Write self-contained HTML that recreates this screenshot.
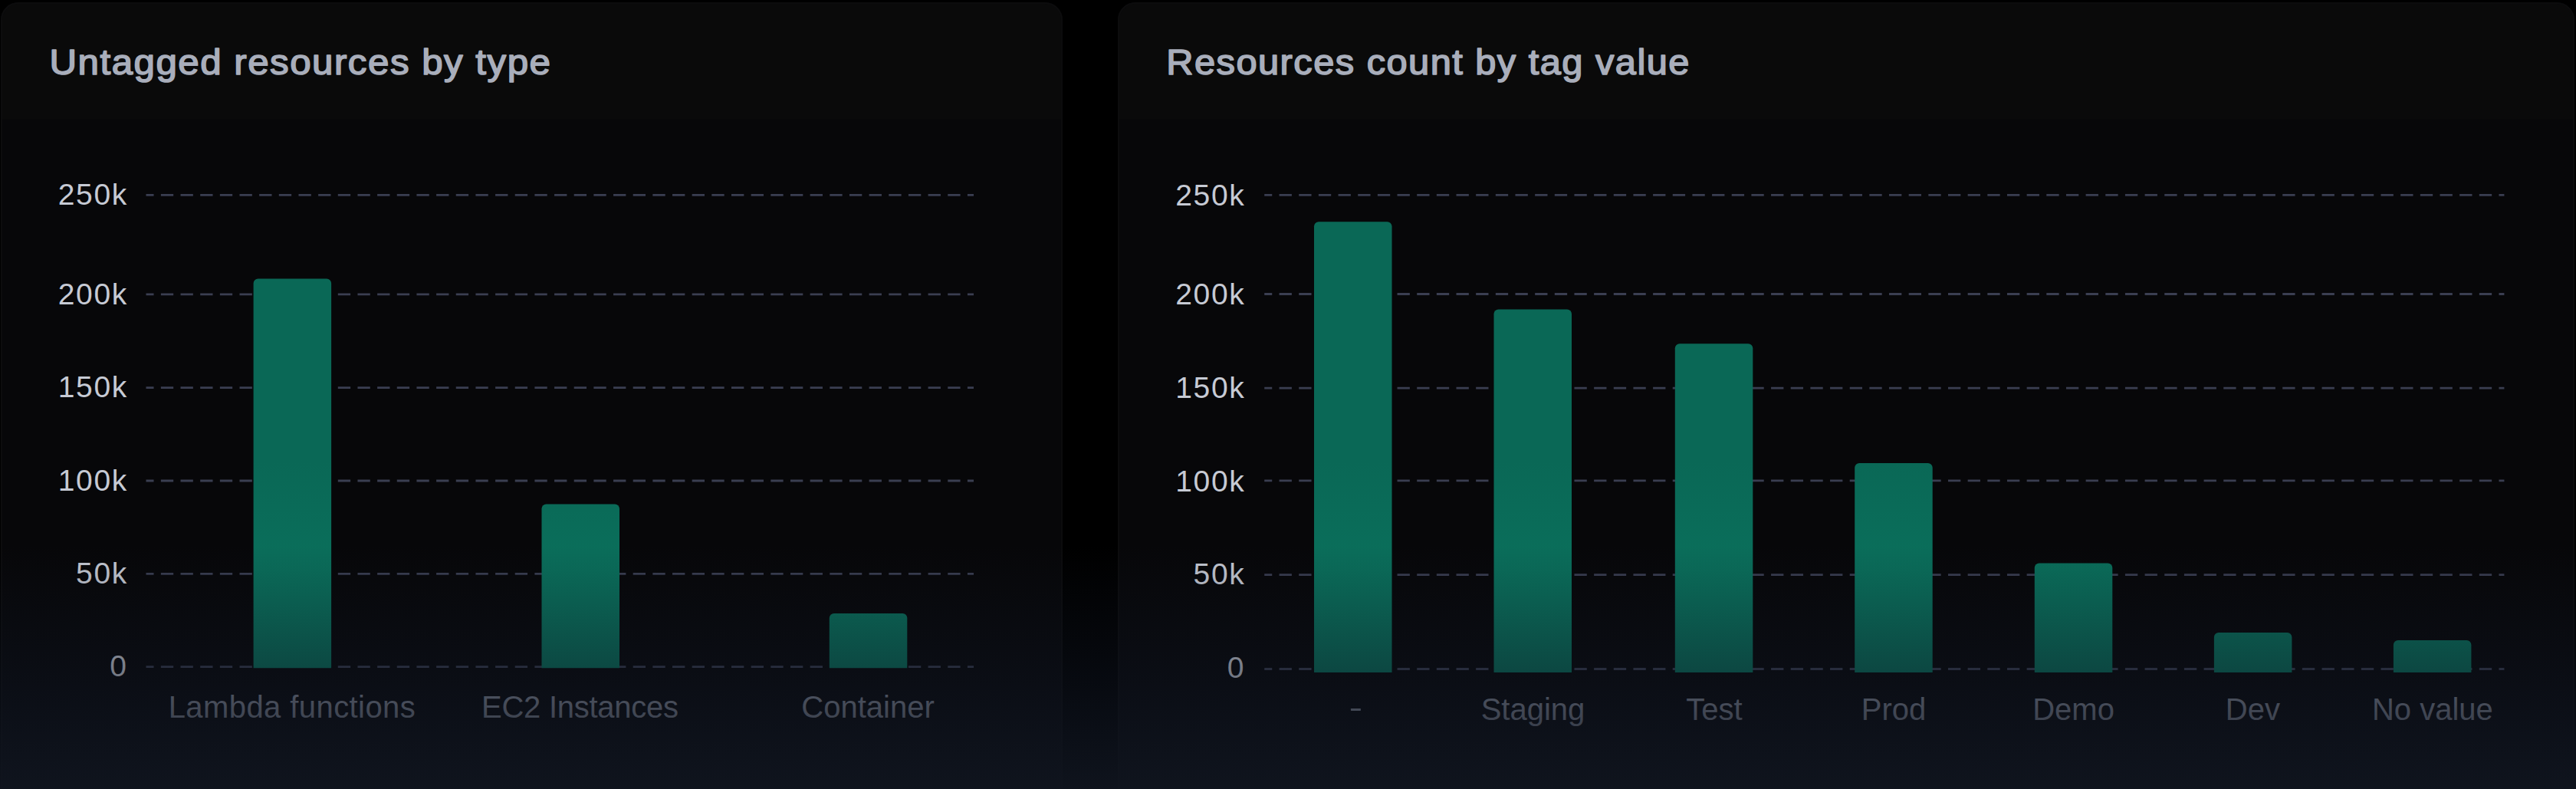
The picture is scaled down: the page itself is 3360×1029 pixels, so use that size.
<!DOCTYPE html>
<html><head><meta charset="utf-8"><title>Tag charts</title>
<style>
html,body{margin:0;padding:0;background:#000;width:3360px;height:1029px;overflow:hidden}
svg{display:block}
text{font-family:"Liberation Sans",sans-serif}
.ttl{font-size:46.5px;fill:#a9aebb;stroke:#a9aebb;stroke-width:1.6px;stroke-linejoin:round;letter-spacing:1.4px}
.yl{font-size:39px;fill:#c6cad4;letter-spacing:1.7px}
.xl{font-size:40px;fill:#8e94a2}
.gl{stroke:#3a3e51;stroke-width:2.8;stroke-dasharray:16.33 9.33;stroke-dashoffset:6.3;fill:none}
</style></head>
<body>
<svg width="3360" height="1029" viewBox="0 0 3360 1029">
<defs>
<linearGradient id="bg" gradientUnits="userSpaceOnUse" x1="0" y1="600" x2="0" y2="745">
<stop offset="0" stop-color="#0a6856"/><stop offset="1" stop-color="#0a6f5b"/>
</linearGradient>
<linearGradient id="ov" gradientUnits="userSpaceOnUse" x1="0" y1="712" x2="0" y2="1029">
<stop offset="0" stop-color="#0f1522" stop-opacity="0"/><stop offset="0.52" stop-color="#0f1522" stop-opacity="0.44"/><stop offset="1" stop-color="#10151f" stop-opacity="0.93"/>
</linearGradient>
<clipPath id="c1"><rect x="1" y="3" width="1385" height="1100" rx="23"/></clipPath>
<clipPath id="c2"><rect x="1458" y="3" width="1900" height="1100" rx="23"/></clipPath>
</defs>
<rect width="3360" height="1029" fill="#000"/>
<!-- left card -->
<g clip-path="url(#c1)">
<rect x="1" y="3" width="1385" height="1100" fill="#070709"/>
<rect x="1" y="3" width="1385" height="152.5" fill="#0a0a0a"/>
</g>
<rect x="2" y="4" width="1383" height="1100" rx="22" fill="none" stroke="#0c0c0d" stroke-width="2"/>
<!-- right card -->
<g clip-path="url(#c2)">
<rect x="1458" y="3" width="1900" height="1100" fill="#070709"/>
<rect x="1458" y="3" width="1900" height="152.5" fill="#0a0a0a"/>
</g>
<rect x="1459" y="4" width="1898" height="1100" rx="22" fill="none" stroke="#0c0c0d" stroke-width="2"/>

<g transform="translate(64.5 97.3) scale(1.06 1)"><text x="0" y="0" class="ttl">Untagged resources by type</text></g>
<g transform="translate(1521.3 97.3) scale(1.049 1)"><text x="0" y="0" class="ttl">Resources count by tag value</text></g>

<!-- left chart -->
<line x1="190.5" y1="254.3" x2="1270" y2="254.3" class="gl"/>
<line x1="190.5" y1="383.8" x2="1270" y2="383.8" class="gl"/>
<line x1="190.5" y1="505.6" x2="1270" y2="505.6" class="gl"/>
<line x1="190.5" y1="627.0" x2="1270" y2="627.0" class="gl"/>
<line x1="190.5" y1="748.3" x2="1270" y2="748.3" class="gl"/>
<line x1="190.5" y1="869.6" x2="1270" y2="869.6" class="gl"/>
<path d="M330.6 871.2V369.5a6 6 0 0 1 6 -6h89.5a6 6 0 0 1 6 6V871.2z" fill="url(#bg)"/>
<path d="M706.5 871.2V663.5a6 6 0 0 1 6 -6h89.5a6 6 0 0 1 6 6V871.2z" fill="url(#bg)"/>
<path d="M1081.8 871.2V806.0a6 6 0 0 1 6 -6h89.5a6 6 0 0 1 6 6V871.2z" fill="url(#bg)"/>
<text x="167.0" y="266.8" text-anchor="end" class="yl">250k</text>
<text x="167.0" y="397.0" text-anchor="end" class="yl">200k</text>
<text x="167.0" y="518.3" text-anchor="end" class="yl">150k</text>
<text x="167.0" y="639.5" text-anchor="end" class="yl">100k</text>
<text x="167.0" y="760.7" text-anchor="end" class="yl">50k</text>
<text x="166.7" y="881.8" text-anchor="end" class="yl">0</text>
<text x="380.7" y="936.2" text-anchor="middle" class="xl" textLength="322" lengthAdjust="spacing">Lambda functions</text>
<text x="756.5" y="936.2" text-anchor="middle" class="xl" textLength="257" lengthAdjust="spacing">EC2 Instances</text>
<text x="1132.0" y="936.2" text-anchor="middle" class="xl">Container</text>

<!-- right chart -->
<line x1="1649.2" y1="254.3" x2="3266.4" y2="254.3" class="gl"/>
<line x1="1649.2" y1="383.5" x2="3266.4" y2="383.5" class="gl"/>
<line x1="1649.2" y1="506.2" x2="3266.4" y2="506.2" class="gl"/>
<line x1="1649.2" y1="626.9" x2="3266.4" y2="626.9" class="gl"/>
<line x1="1649.2" y1="749.6" x2="3266.4" y2="749.6" class="gl"/>
<line x1="1649.2" y1="872.5" x2="3266.4" y2="872.5" class="gl"/>
<path d="M1714.0 877.0V295.3a6 6 0 0 1 6 -6h89.5a6 6 0 0 1 6 6V877.0z" fill="url(#bg)"/>
<path d="M1948.5 877.0V409.6a6 6 0 0 1 6 -6h89.5a6 6 0 0 1 6 6V877.0z" fill="url(#bg)"/>
<path d="M2184.8 877.0V454.3a6 6 0 0 1 6 -6h89.5a6 6 0 0 1 6 6V877.0z" fill="url(#bg)"/>
<path d="M2419.2 877.0V609.9a6 6 0 0 1 6 -6h89.5a6 6 0 0 1 6 6V877.0z" fill="url(#bg)"/>
<path d="M2653.8 877.0V740.6a6 6 0 0 1 6 -6h89.5a6 6 0 0 1 6 6V877.0z" fill="url(#bg)"/>
<path d="M2887.9 877.0V831.1a6 6 0 0 1 6 -6h89.5a6 6 0 0 1 6 6V877.0z" fill="url(#bg)"/>
<path d="M3121.9 877.0V841.0a6 6 0 0 1 6 -6h89.5a6 6 0 0 1 6 6V877.0z" fill="url(#bg)"/>
<text x="1624.5" y="268.0" text-anchor="end" class="yl">250k</text>
<text x="1624.5" y="397.4" text-anchor="end" class="yl">200k</text>
<text x="1624.5" y="519.0" text-anchor="end" class="yl">150k</text>
<text x="1624.5" y="640.6" text-anchor="end" class="yl">100k</text>
<text x="1624.5" y="762.2" text-anchor="end" class="yl">50k</text>
<text x="1624.2" y="883.8" text-anchor="end" class="yl">0</text>
<rect x="1761.9" y="923.9" width="13" height="3" rx="0.6" fill="#8e94a2"/>
<text x="1999.5" y="938.8" text-anchor="middle" class="xl">Staging</text>
<text x="2236.0" y="938.8" text-anchor="middle" class="xl">Test</text>
<text x="2470.0" y="938.8" text-anchor="middle" class="xl">Prod</text>
<text x="2704.6" y="938.8" text-anchor="middle" class="xl">Demo</text>
<text x="2938.4" y="938.8" text-anchor="middle" class="xl">Dev</text>
<text x="3172.9" y="938.8" text-anchor="middle" class="xl">No value</text>

<!-- bottom fade overlay -->
<rect x="0" y="712" width="3360" height="317" fill="url(#ov)"/>
</svg>
</body></html>
